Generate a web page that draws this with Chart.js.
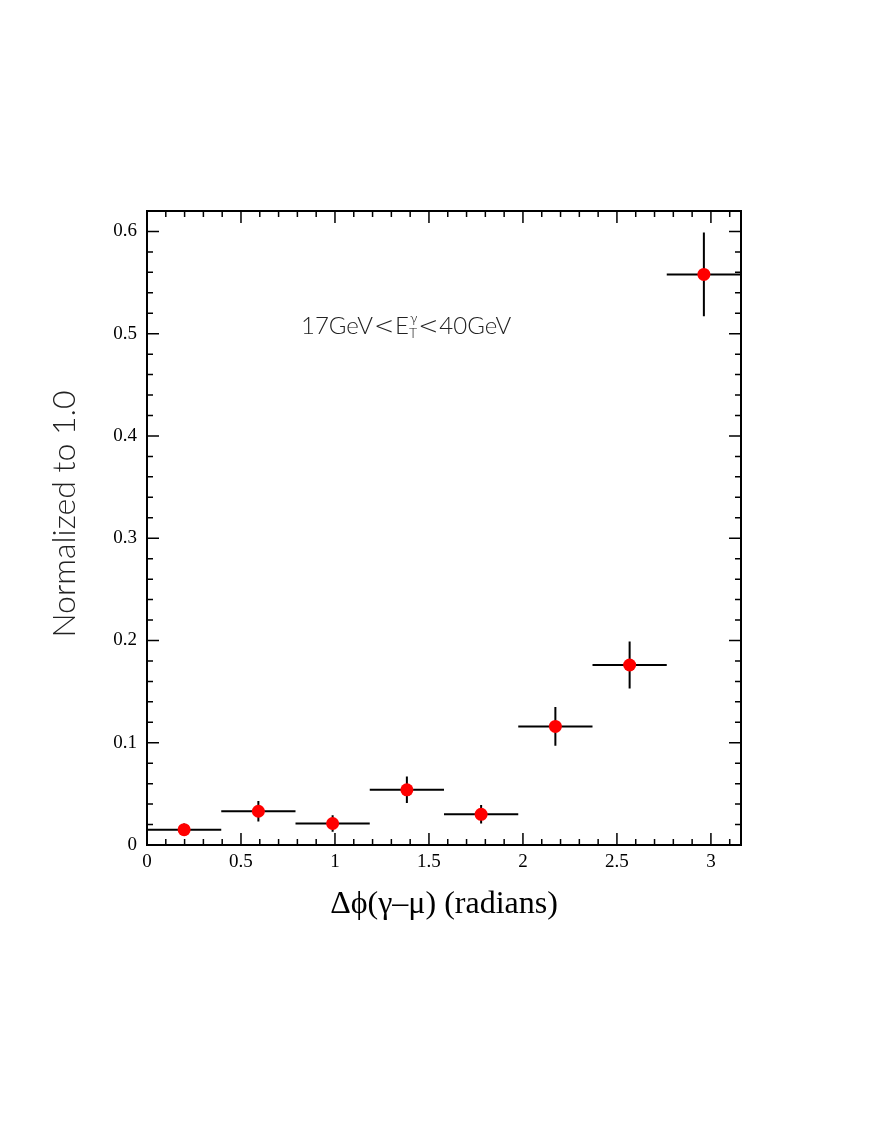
<!DOCTYPE html>
<html>
<head>
<meta charset="utf-8">
<script src="https://cdn.jsdelivr.net/npm/chart.js@4.4.1/dist/chart.umd.min.js"></script>
<style>
  html, body { margin: 0; padding: 0; background: #fff; }
  canvas { display: block; }
</style>
</head>
<body>
<canvas id="phiChart" width="872" height="1128"></canvas>
<script>
// bins of delta phi (0..3.16, 8 bins)
const binCenters = [0.1975, 0.5925, 0.9875, 1.3825, 1.7775, 2.1725, 2.5675, 2.9625];
const binHalfWidths = [0.1975, 0.1975, 0.1975, 0.1975, 0.1975, 0.1975, 0.1975, 0.1975];
const values = [0.015, 0.033, 0.021, 0.054, 0.030, 0.116, 0.176, 0.558];
const errors = [0.006, 0.010, 0.008, 0.013, 0.009, 0.019, 0.023, 0.041];

const xTicks = [0, 0.5, 1, 1.5, 2, 2.5, 3];
const xTickLabels = ['0', '0.5', '1', '1.5', '2', '2.5', '3'];
const yTicks = [0, 0.1, 0.2, 0.3, 0.4, 0.5, 0.6];
const yTickLabels = ['0', '0.1', '0.2', '0.3', '0.4', '0.5', '0.6'];

const xMax = 3.16;
const yMax = 0.62;

const points = binCenters.map((c, i) => ({ x: c, y: values[i] }));

// frame, inward ticks, error bars and the text labels
const histPlugin = {
    id: 'histPlugin',
    beforeDatasetsDraw(chart) {
        const ctx = chart.ctx;
        const xs = chart.scales.x, ys = chart.scales.y;
        ctx.save();
        ctx.strokeStyle = '#000';
        ctx.lineWidth = 2;
        ctx.beginPath();
        for (let i = 0; i < binCenters.length; i++) {
            const x0 = xs.getPixelForValue(binCenters[i] - binHalfWidths[i]);
            const x1 = xs.getPixelForValue(Math.min(binCenters[i] + binHalfWidths[i], xMax));
            const xc = xs.getPixelForValue(binCenters[i]);
            const yc = ys.getPixelForValue(values[i]);
            ctx.moveTo(x0, yc);
            ctx.lineTo(x1, yc);
            ctx.moveTo(xc, ys.getPixelForValue(values[i] - errors[i]));
            ctx.lineTo(xc, ys.getPixelForValue(values[i] + errors[i]));
        }
        ctx.stroke();
        ctx.restore();
    },
    afterDraw(chart) {
        const ctx = chart.ctx;
        const a = chart.chartArea;
        const xs = chart.scales.x, ys = chart.scales.y;
        ctx.save();
        ctx.strokeStyle = '#000';
        ctx.lineWidth = 2;
        ctx.strokeRect(a.left, a.top, a.right - a.left, a.bottom - a.top);

        ctx.lineWidth = 1.5;
        ctx.beginPath();
        // x ticks, minor every 0.1, major every 0.5
        for (let i = 0; i <= 31; i++) {
            const v = i / 10;
            const len = (i % 5 === 0) ? 12 : 6;
            const px = xs.getPixelForValue(v);
            ctx.moveTo(px, a.bottom);
            ctx.lineTo(px, a.bottom - len);
            ctx.moveTo(px, a.top);
            ctx.lineTo(px, a.top + len);
        }
        // y ticks, minor every 0.02, major every 0.1
        for (let i = 0; i <= 31; i++) {
            const v = i * 0.02;
            const len = (i % 5 === 0) ? 12 : 6;
            const py = ys.getPixelForValue(v);
            ctx.moveTo(a.left, py);
            ctx.lineTo(a.left + len, py);
            ctx.moveTo(a.right, py);
            ctx.lineTo(a.right - len, py);
        }
        ctx.stroke();

        // y axis title
        ctx.fillStyle = '#222';
        ctx.save();
        ctx.translate(65, 514);
        ctx.rotate(-Math.PI / 2);
        ctx.textAlign = 'center';
        ctx.textBaseline = 'middle';
        ctx.font = '300 32px Lato, "Open Sans", sans-serif';
        ctx.fillText('Normalized to 1.0', 0, 0);
        ctx.restore();

        // energy range label, pieces chained left to right
        ctx.textBaseline = 'alphabetic';
        ctx.textAlign = 'left';
        const big = '300 24px Lato, "Open Sans", sans-serif';
        const lt = '200 24px "DejaVu Sans", sans-serif';
        const small = '300 14px Lato, "Open Sans", sans-serif';
        const y = 334;
        let x = 301;
        const put = (txt, font, dy, gap) => {
            ctx.font = font;
            ctx.fillText(txt, x, y + dy);
            x += ctx.measureText(txt).width + gap;
        };
        put('17GeV', big, 0, 1);
        put('<', lt, 0, 1);
        put('E', big, 0, 0);
        ctx.font = small;
        ctx.fillText('\u03b3', x + 1, y - 11);
        const supW = ctx.measureText('\u03b3').width + 1;
        ctx.fillText('T', x, y + 4);
        x += Math.max(ctx.measureText('T').width, supW) + 1;
        put('<', lt, 0, 1);
        put('40GeV', big, 0, 0);
        ctx.restore();
    }
};

const ctx1 = document.getElementById('phiChart').getContext('2d');
new Chart(ctx1, {
    type: 'scatter',
    data: {
        datasets: [{
            data: points,
            backgroundColor: '#ff0000',
            borderColor: '#ff0000',
            pointRadius: 6.5,
            pointHoverRadius: 6.5,
            borderWidth: 0
        }]
    },
    plugins: [histPlugin],
    options: {
        responsive: false,
        animation: false,
        devicePixelRatio: 1,
        layout: { padding: { left: 0, top: 211, right: 131, bottom: 193 } },
        plugins: {
            legend: { display: false },
            tooltip: { enabled: false }
        },
        scales: {
            x: {
                type: 'linear',
                min: 0,
                max: xMax,
                afterBuildTicks: (scale) => { scale.ticks = xTicks.map(v => ({ value: v })); },
                afterFit: (scale) => { scale.height = 90; },
                grid: { display: false, drawTicks: false },
                border: { display: false },
                ticks: {
                    padding: 6,
                    autoSkip: false,
                    maxRotation: 0,
                    color: '#000',
                    font: { family: '"Liberation Serif", "Times New Roman", serif', size: 19 },
                    callback: (v) => xTickLabels[xTicks.indexOf(v)]
                },
                title: {
                    display: true,
                    text: '\u0394\u03d5(\u03b3\u2013\u03bc) (radians)',
                    color: '#000',
                    font: { family: '"Liberation Serif", "Times New Roman", serif', size: 32 },
                    padding: { top: 0, bottom: 11 }
                }
            },
            y: {
                type: 'linear',
                min: 0,
                max: yMax,
                afterBuildTicks: (scale) => { scale.ticks = yTicks.map(v => ({ value: v })); },
                afterFit: (scale) => { scale.width = 147; },
                grid: { display: false, drawTicks: false },
                border: { display: false },
                ticks: {
                    padding: 10,
                    autoSkip: false,
                    color: '#000',
                    font: { family: '"Liberation Serif", "Times New Roman", serif', size: 19 },
                    callback: (v) => yTickLabels[yTicks.indexOf(v)]
                },
                title: { display: false }
            }
        }
    }
});
</script>
</body>
</html>
